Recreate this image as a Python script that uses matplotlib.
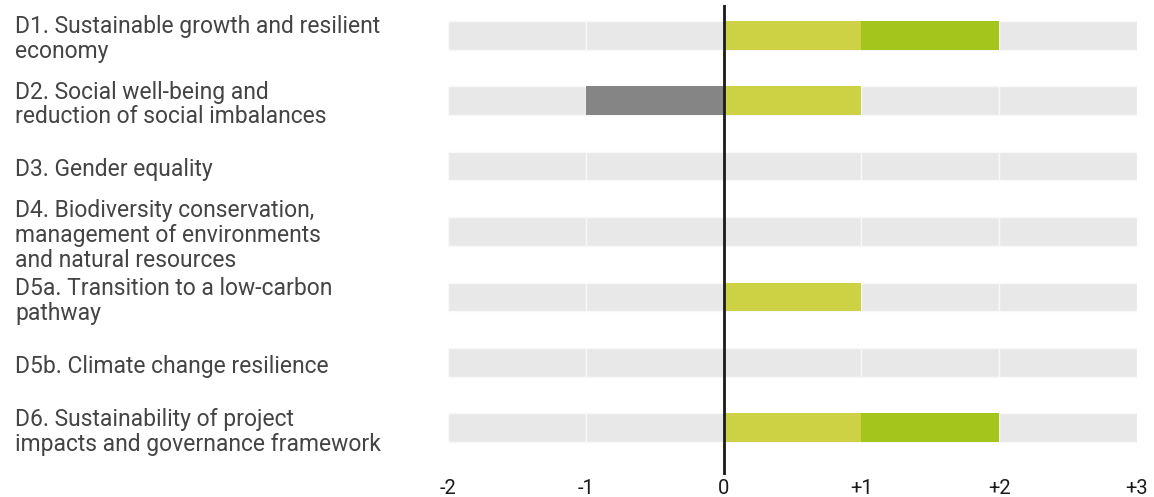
import matplotlib
matplotlib.use('Agg')
import matplotlib.pyplot as plt
import matplotlib.transforms as mtransforms

# Datos
categorias = [
    "D1. Sustainable growth and resilient\neconomy",
    "D2. Social well-being and\nreduction of social imbalances",
    "D3. Gender equality",
    "D4. Biodiversity conservation,\nmanagement of environments\nand natural resources",
    "D5a. Transition to a low-carbon\npathway",
    "D5b. Climate change resilience",
    "D6. Sustainability of project\nimpacts and governance framework",
]
negativo = [0, -1, 0, 0, 0, 0, 0]
positivo_1 = [1, 1, 0, 0, 1, 0, 1]
positivo_2 = [1, 0, 0, 0, 0, 0, 1]
escala = [-2, -1, 0, 1, 2, 3]
etiquetas_x = ["-2", "-1", "0", "+1", "+2", "+3"]

plt.rcParams['font.family'] = ['Roboto', 'DejaVu Sans']

fig = plt.figure(figsize=(11.54, 4.97), dpi=100)
ax = fig.add_axes([448 / 1154, 22 / 497, (1137 - 448) / 1154, 470 / 497])

alto = 0.44
filas = range(len(categorias))

# Fondo gris por unidades
for i in filas:
    for a, b in zip(escala[:-1], escala[1:]):
        ax.barh(i, b - a, left=a, height=alto, color='#e8e8e8',
                edgecolor='#f8f8f8', linewidth=1)

# Barras de valores
for i in filas:
    if negativo[i] < 0:
        ax.barh(i, -negativo[i], left=negativo[i], height=alto, color='#858585')
    if positivo_1[i] > 0:
        ax.barh(i, positivo_1[i], left=0, height=alto, color='#cdd244')
    if positivo_2[i] > 0:
        ax.barh(i, positivo_2[i], left=positivo_1[i], height=alto, color='#a4c61c')

ax.axvline(0, color='#1a1a1a', linewidth=2)

ax.set_xlim(-2, 3)
ax.set_ylim(6.72, -0.46)
ax.set_xticks(escala)
ax.set_xticklabels(etiquetas_x, fontsize=14.5, color='#1a1a1a')
ax.tick_params(axis='x', length=0, pad=3)
ax.set_yticks([])
for s in ax.spines.values():
    s.set_visible(False)

trans = mtransforms.blended_transform_factory(fig.transFigure, ax.transData)
for i, texto in enumerate(categorias):
    ax.text(15 / 1154, i + 0.06, texto, transform=trans, ha='left', va='center',
            fontsize=16.5, color='#444444', linespacing=1.1)

fig.savefig('out.png', dpi=100)
